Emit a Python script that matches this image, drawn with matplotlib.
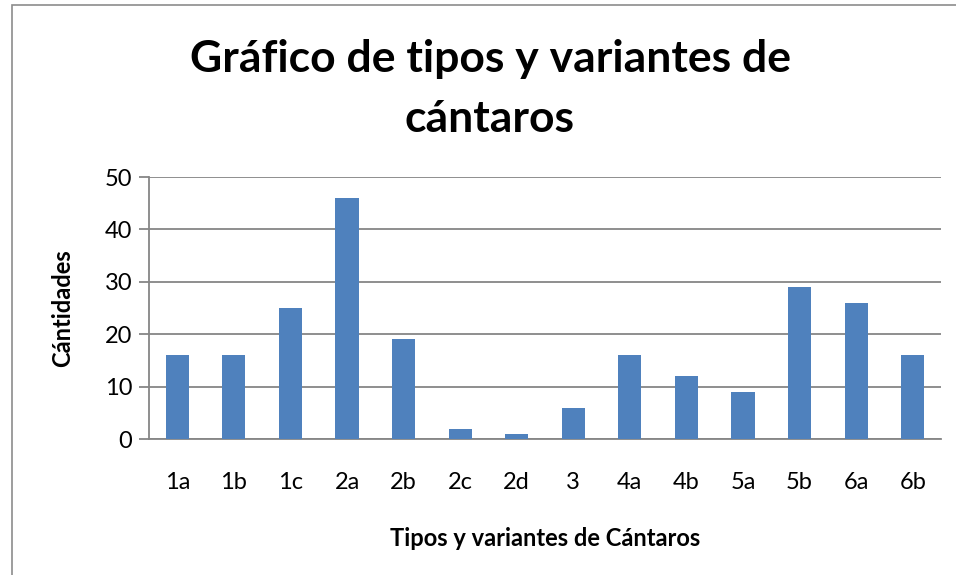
import matplotlib

matplotlib.use("Agg")
import matplotlib.pyplot as plt
from matplotlib.patches import Rectangle

plt.rcParams["font.family"] = ["Lato", "DejaVu Sans"]

categories = ["1a", "1b", "1c", "2a", "2b", "2c", "2d", "3",
              "4a", "4b", "5a", "5b", "6a", "6b"]
cantidades = [16, 16, 25, 46, 19, 2, 1, 6, 16, 12, 9, 29, 26, 16]
yticks = [0, 10, 20, 30, 40, 50]

W, H = 956, 575
fig = plt.figure(figsize=(W / 100, H / 100), dpi=100)

# outer chart frame (right/bottom edges run off the picture)
fig.patches.append(Rectangle((12 / W, -0.5), 2.0, 1.5 - 5 / H, transform=fig.transFigure,
                             fill=False, edgecolor="#8c8c8c", lw=1.2))

ax = fig.add_axes([149 / W, 1 - 439 / H, (941 - 149) / W, (439 - 177) / H])
gray = "#868686"
x = list(range(len(categories)))
ax.bar(x, cantidades, width=0.41, color="#4F81BD", zorder=3)

ax.set_xlim(-0.5, len(categories) - 0.5)
ax.set_ylim(0, 50)
ax.set_yticks(yticks)
ax.set_xticks(x)
ax.set_xticklabels(categories)
ax.yaxis.grid(True, color=gray, lw=1.3, zorder=0)
for s in ("top", "right"):
    ax.spines[s].set_visible(False)
for s in ("left", "bottom"):
    ax.spines[s].set_color(gray)
    ax.spines[s].set_linewidth(1.3)
ax.tick_params(axis="y", length=7, width=1.3, color=gray, labelsize=17, pad=5)
ax.tick_params(axis="x", length=0, labelsize=17, pad=24)

ax.set_xlabel("Tipos y variantes de Cántaros", fontsize=17, fontweight="bold", labelpad=24)
ax.set_ylabel("Cántidades", fontsize=17, fontweight="bold", labelpad=22)

fig.text(490 / W, 1 - 89 / H, "Gráfico de tipos y variantes de\ncántaros",
         ha="center", va="center", fontsize=32, fontweight="bold", linespacing=1.6)

fig.savefig("out.png", dpi=100)
